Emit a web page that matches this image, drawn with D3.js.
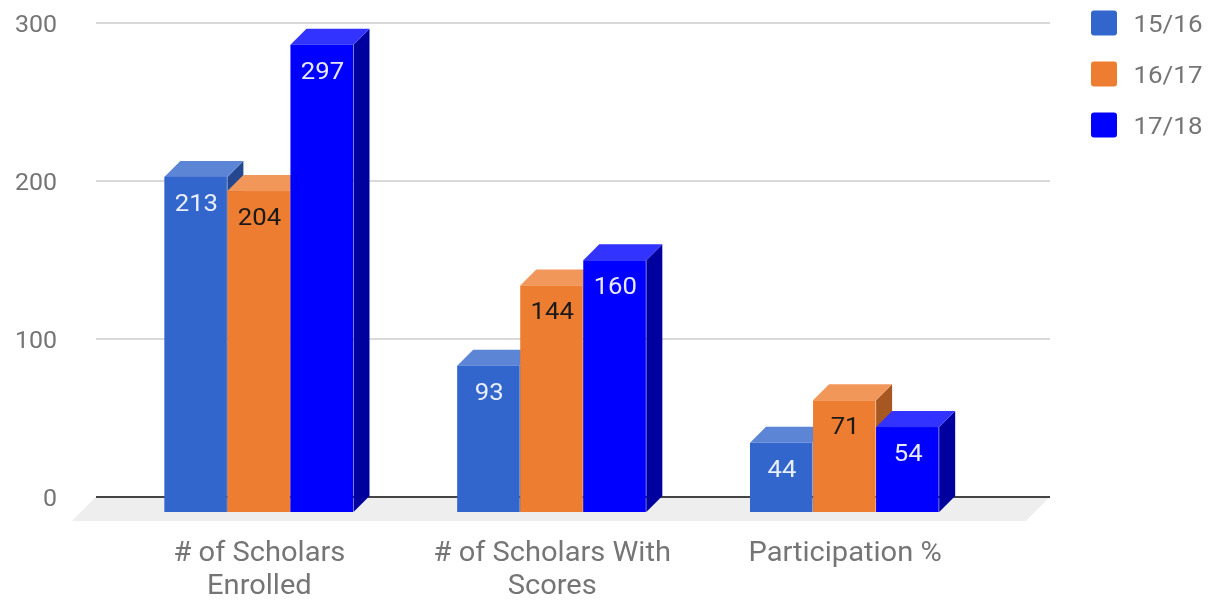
<!DOCTYPE html>
<html><head><meta charset="utf-8">
<script src="https://cdn.jsdelivr.net/npm/d3@7"></script>
<style>html,body{margin:0;padding:0;background:#fff}svg{display:block;filter:blur(0.45px)}text{font-family:Roboto,sans-serif}</style>
</head><body><svg id="c" width="1209" height="600"></svg>
<script>
const categories = ["# of Scholars Enrolled", "# of Scholars With Scores", "Participation %"];
const seriesNames = ["15/16", "16/17", "17/18"];
const values1516 = [213, 93, 44];
const values1617 = [204, 144, 71];
const values1718 = [297, 160, 54];
const yTicks = [0, 100, 200, 300];
const categoryLines = [["# of Scholars", "Enrolled"], ["# of Scholars With", "Scores"], ["Participation %"]];
const frontColors = ["#3366cc", "#ed7d31", "#0000ff"];
const topColors = ["#5c85d6", "#f1975a", "#3333ff"];
const sideColors = ["#24478f", "#a65722", "#00009f"];
const labelColors = ["#e8eefa", "#1a1a1a", "#e8e8ff"];

const allValues = [values1516, values1617, values1718];
const depth = 16;
const svg = d3.select("#c");
const x0 = d3.scaleBand().domain(categories).range([112.5, 991]).paddingInner(0.354).paddingOuter(0.177);
const x1 = d3.scaleBand().domain(seriesNames).range([0, x0.bandwidth()]);
const y = d3.scaleLinear().domain([0, 300]).range([512, 40]);       // front plane of the bars
const yWall = d3.scaleLinear().domain([0, 300]).range([496.5, 22.5]); // back wall with the gridlines

// floor
svg.append("polygon").attr("fill", "#eeeeee")
  .attr("points", [[96, yWall(0)], [1050, yWall(0)], [1026, y(0) + 9], [72, y(0) + 9]].join(" "));

// y axis + gridlines on the back wall
const yAxis = svg.append("g").attr("transform", "translate(96,0)")
  .call(d3.axisLeft(yWall).tickValues(yTicks).tickSize(-954).tickFormat(d3.format("d")));
yAxis.select(".domain").remove();
yAxis.selectAll(".tick line").attr("stroke", d => d === 0 ? "#444444" : "#cccccc").attr("stroke-width", d => d === 0 ? 2 : 1.4);
yAxis.selectAll(".tick text").attr("text-anchor", "end").attr("x", 0).attr("dy", "0.32em").attr("fill", "#757575")
  .style("font-size", "24px").style("font-family", "Roboto,sans-serif")
  .attr("transform", "translate(-39,1) scale(1.04,1)");

// bars
categories.forEach((cat, ci) => {
  seriesNames.forEach((s, si) => {
    const v = allValues[si][ci];
    const gx = x0(cat) + x1(s), w = x1.bandwidth(), yt = y(v), yb = y(0);
    const g = svg.append("g");
    g.append("polygon").attr("fill", sideColors[si])
      .attr("points", [[gx + w, yt], [gx + w + depth, yt - depth], [gx + w + depth, yb - depth], [gx + w, yb]].join(" "));
    g.append("polygon").attr("fill", topColors[si])
      .attr("points", [[gx, yt], [gx + depth, yt - depth], [gx + w + depth, yt - depth], [gx + w, yt]].join(" "));
    g.append("rect").attr("x", gx).attr("y", yt).attr("width", w - 0.5).attr("height", yb - yt).attr("fill", frontColors[si]);
  });
});
// value labels
categories.forEach((cat, ci) => {
  seriesNames.forEach((s, si) => {
    const v = allValues[si][ci];
    const lx = x0(cat) + x1(s) + x1.bandwidth() / 2 + 0.5;
    svg.append("text").attr("text-anchor", "middle").attr("fill", labelColors[si]).style("font-size", "24px")
      .attr("transform", `translate(${lx},${y(v) + 34}) scale(1.07,1)`).text(v);
  });
});

// category axis
const xAxis = svg.append("g").attr("transform", "translate(0,512)")
  .call(d3.axisBottom(x0).tickSize(0).tickFormat(""));
xAxis.select(".domain").remove();
xAxis.selectAll(".tick").each(function (d, i) {
  const t = d3.select(this).select("text").attr("fill", "#757575").attr("y", 0).attr("dy", 0)
    .attr("transform", "translate(0.5,0) scale(1.085,1)")
    .style("font-size", "26.8px").style("font-family", "Roboto,sans-serif");
  categoryLines[i].forEach((ln, k) => t.append("tspan").attr("x", 0).attr("y", 49 + k * 33).text(ln));
});

// legend
const legendY = d3.scalePoint().domain(seriesNames).range([23, 125]);
const legend = svg.selectAll(".lg").data(seriesNames).join("g").attr("transform", d => `translate(0,${legendY(d)})`);
legend.append("rect").attr("x", 1091).attr("y", -12.5).attr("width", 26).attr("height", 25).attr("rx", 3).attr("fill", (d, i) => frontColors[i]);
legend.append("text").attr("transform", "translate(1133.5,9) scale(1.08,1)").attr("fill", "#757575").style("font-size", "24px").text(d => d);
</script></body></html>
